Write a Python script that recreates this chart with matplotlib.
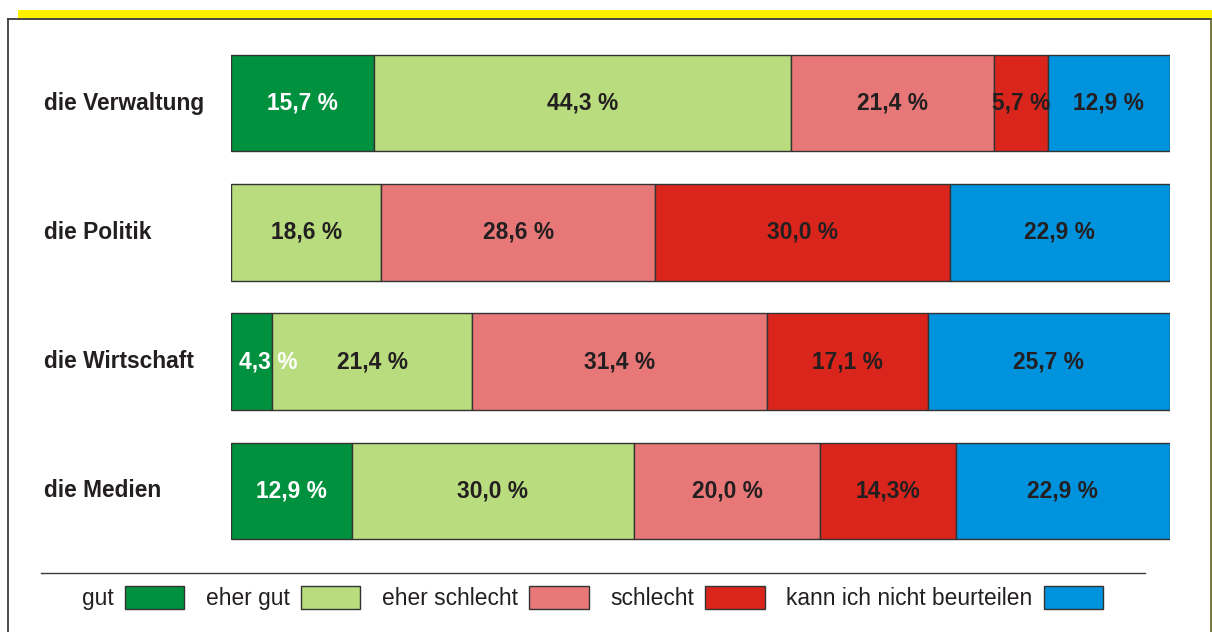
import numpy as np
import matplotlib.pyplot as plt
from matplotlib.patches import Rectangle
from matplotlib.lines import Line2D

plt.rcParams["font.family"] = ["Liberation Sans", "DejaVu Sans"]

# ---- Daten ----
bereiche = ["die Verwaltung", "die Politik", "die Wirtschaft", "die Medien"]
kategorien = ["gut", "eher gut", "eher schlecht", "schlecht", "kann ich nicht beurteilen"]
farben = ["#00913f", "#b9dc7e", "#e87878", "#da251d", "#0093dd"]

# Breiten der Segmente (aus dem Bild gemessen, %)
breiten = {
    "die Verwaltung": [15.2, 44.5, 21.6, 5.75, 12.95],
    "die Politik":    [0.0, 16.0, 29.2, 31.4, 23.4],
    "die Wirtschaft": [4.4, 21.3, 31.4, 17.2, 25.7],
    "die Medien":     [12.9, 30.0, 19.9, 14.4, 22.8],
}
# Beschriftungen wie im Original
beschriftungen = {
    "die Verwaltung": ["15,7 %", "44,3 %", "21,4 %", "5,7 %", "12,9 %"],
    "die Politik":    ["", "18,6 %", "28,6 %", "30,0 %", "22,9 %"],
    "die Wirtschaft": ["4,3 %", "21,4 %", "31,4 %", "17,1 %", "25,7 %"],
    "die Medien":     ["12,9 %", "30,0 %", "20,0 %", "14,3%", "22,9 %"],
}

W, H = 1212, 632
fig = plt.figure(figsize=(W / 100, H / 100), dpi=100)

# ---- Rahmen und gelber Balken ----
rahmen = fig.add_axes([0, 0, 1, 1])
rahmen.set_xlim(0, W)
rahmen.set_ylim(H, 0)
rahmen.axis("off")
rahmen.add_patch(Rectangle((18, 10), W - 18, 8.7, color="#fff200", lw=0))
rahmen.add_line(Line2D([7.5, 1210.5], [19.3, 19.3], color="#3a3a3a", lw=1.3))
rahmen.add_line(Line2D([7.5, 7.5], [19.3, H], color="#3a3a3a", lw=1.3))
rahmen.add_line(Line2D([1210.5, 1210.5], [19.3, H], color="#6b6b30", lw=1.3))
rahmen.add_line(Line2D([41, 1145], [573, 573], color="#3a3a3a", lw=1.0))

# ---- Gestapelte Balken ----
ax = fig.add_axes([231 / W, 1 - 555.5 / H, 938.5 / W, 517 / H])
ax.set_xlim(0, 100)
ax.set_ylim(len(bereiche) - 0.5, -0.5)
ax.axis("off")

for i, b in enumerate(bereiche):
    links = 0.0
    for k, (w, txt) in enumerate(zip(breiten[b], beschriftungen[b])):
        if w > 0:
            ax.barh(i, w, left=links, height=0.747, color=farben[k],
                    edgecolor="#333333", linewidth=1.0)
            farbe_txt = "white" if k == 0 else "#231f20"
            if w < 5:
                ax.text(links + 0.9, i, txt, ha="left", va="center",
                        fontsize=16.4, fontweight="bold", color=farbe_txt)
            else:
                ax.text(links + w / 2, i, txt, ha="center", va="center",
                        fontsize=16.4, fontweight="bold", color=farbe_txt)
        links += w
    ax.text(-19.9, i, b, ha="left", va="center", fontsize=16.4,
            fontweight="bold", color="#231f20", clip_on=False)

# ---- Legende ----
handles = [Rectangle((0, 0), 1, 1, facecolor=c, edgecolor="#333333", lw=1.0)
           for c in farben]
fig.legend(handles, kategorien, loc="center", bbox_to_anchor=(592.5 / W, 1 - 598 / H),
           ncol=5, markerfirst=False, frameon=False, fontsize=16.4,
           handlelength=2.6, handleheight=1.2, handletextpad=0.5,
           columnspacing=0.95, labelcolor="#231f20")

fig.savefig("out.png", dpi=100)
